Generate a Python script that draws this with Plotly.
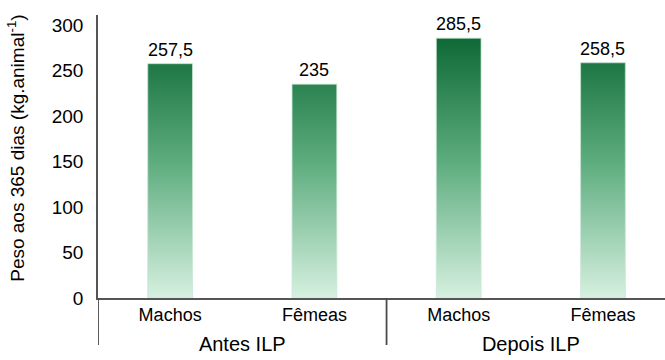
import plotly.graph_objects as go

# Data
groups = ["Antes ILP", "Antes ILP", "Depois ILP", "Depois ILP"]
sexes = ["Machos", "Fêmeas", "Machos", "Fêmeas"]
peso = [257.5, 235, 285.5, 258.5]
y_ticks = [0, 50, 100, 150, 200, 250, 300]

FONT = "Liberation Sans, Arial, sans-serif"
AXIS_COLOR = "#555555"
BAR_WIDTH = 0.31
X_RANGE = [-0.5, 3.43]
DIVIDER_DEPTH = -0.166  # how far the group dividers reach below the axis (paper units)

# Group names shown a little larger and lower than the sex labels
group_labels = [
    f"<span style='font-size:20px;baseline-shift:-8px'>{g}</span>" for g in groups
]

fig = go.Figure()

# Invisible bars on the category axis so the two-level labels are drawn
fig.add_trace(go.Bar(
    x=[group_labels, sexes], y=peso, marker_color="rgba(0,0,0,0)",
    hoverinfo="skip", showlegend=False,
))

# Bars with a vertical green gradient tied to the value axis
bx, by = [], []
for i, v in enumerate(peso):
    x0, x1 = i - BAR_WIDTH / 2, i + BAR_WIDTH / 2
    bx += [x0, x0, x1, x1, x0, None]
    by += [0, v, v, 0, 0, None]
fig.add_trace(go.Scatter(
    x=bx, y=by, xaxis="x2", mode="lines", fill="toself",
    line=dict(color="rgba(200,232,212,0.9)", width=0.8),
    fillgradient=dict(
        type="vertical", start=0, stop=300,
        colorscale=[[0, "#d6f0e0"], [0.5, "#5dac7e"], [1, "#06622f"]],
    ),
    hoverinfo="skip", showlegend=False,
))

# Value labels above each bar
value_labels = [dict(
    x=i, y=v, xref="x2", yref="y",
    text=f"{v:g}".replace(".", ","),
    showarrow=False, xanchor="center", yanchor="bottom", yshift=2,
    font=dict(family=FONT, size=18, color="#000000"),
) for i, v in enumerate(peso)]

# Vertical dividers at the edges of each group of categories
bounds = [-0.5] + [i - 0.5 for i in range(1, len(groups)) if groups[i] != groups[i - 1]] \
    + [len(groups) - 0.5]
dividers = [dict(
    type="line", xref="x2", yref="paper", x0=b, x1=b, y0=0, y1=DIVIDER_DEPTH,
    line=dict(color="#4a4a4a", width=1.8),
) for b in bounds]

fig.update_layout(
    width=665, height=360,
    margin=dict(l=98, r=0, t=15, b=62),
    paper_bgcolor="white", plot_bgcolor="white",
    font=dict(family=FONT, color="#000000"),
    bargap=0.69,
    xaxis=dict(
        type="multicategory", range=X_RANGE,
        showline=True, linecolor=AXIS_COLOR, linewidth=1.5,
        showdividers=False,
        ticks="", showgrid=False,
        tickfont=dict(family=FONT, size=18, color="#000000"),
    ),
    xaxis2=dict(
        overlaying="x", range=X_RANGE, visible=False, fixedrange=True,
    ),
    yaxis=dict(
        range=[0, 311], tickvals=y_ticks,
        showline=True, linecolor=AXIS_COLOR, linewidth=1.5,
        showgrid=False, zeroline=False, ticks="",
        ticklabelstandoff=9,
        tickfont=dict(family=FONT, size=19, color="#000000"),
    ),
    shapes=dividers,
    annotations=value_labels + [dict(
        text="Peso aos 365 dias (kg.animal<sup>-1</sup>)",
        textangle=-90, xref="paper", yref="paper",
        x=-0.145, y=0.53, xanchor="center", yanchor="middle",
        showarrow=False, font=dict(family=FONT, size=19, color="#000000"),
    )],
)

fig.write_html("out.html")
